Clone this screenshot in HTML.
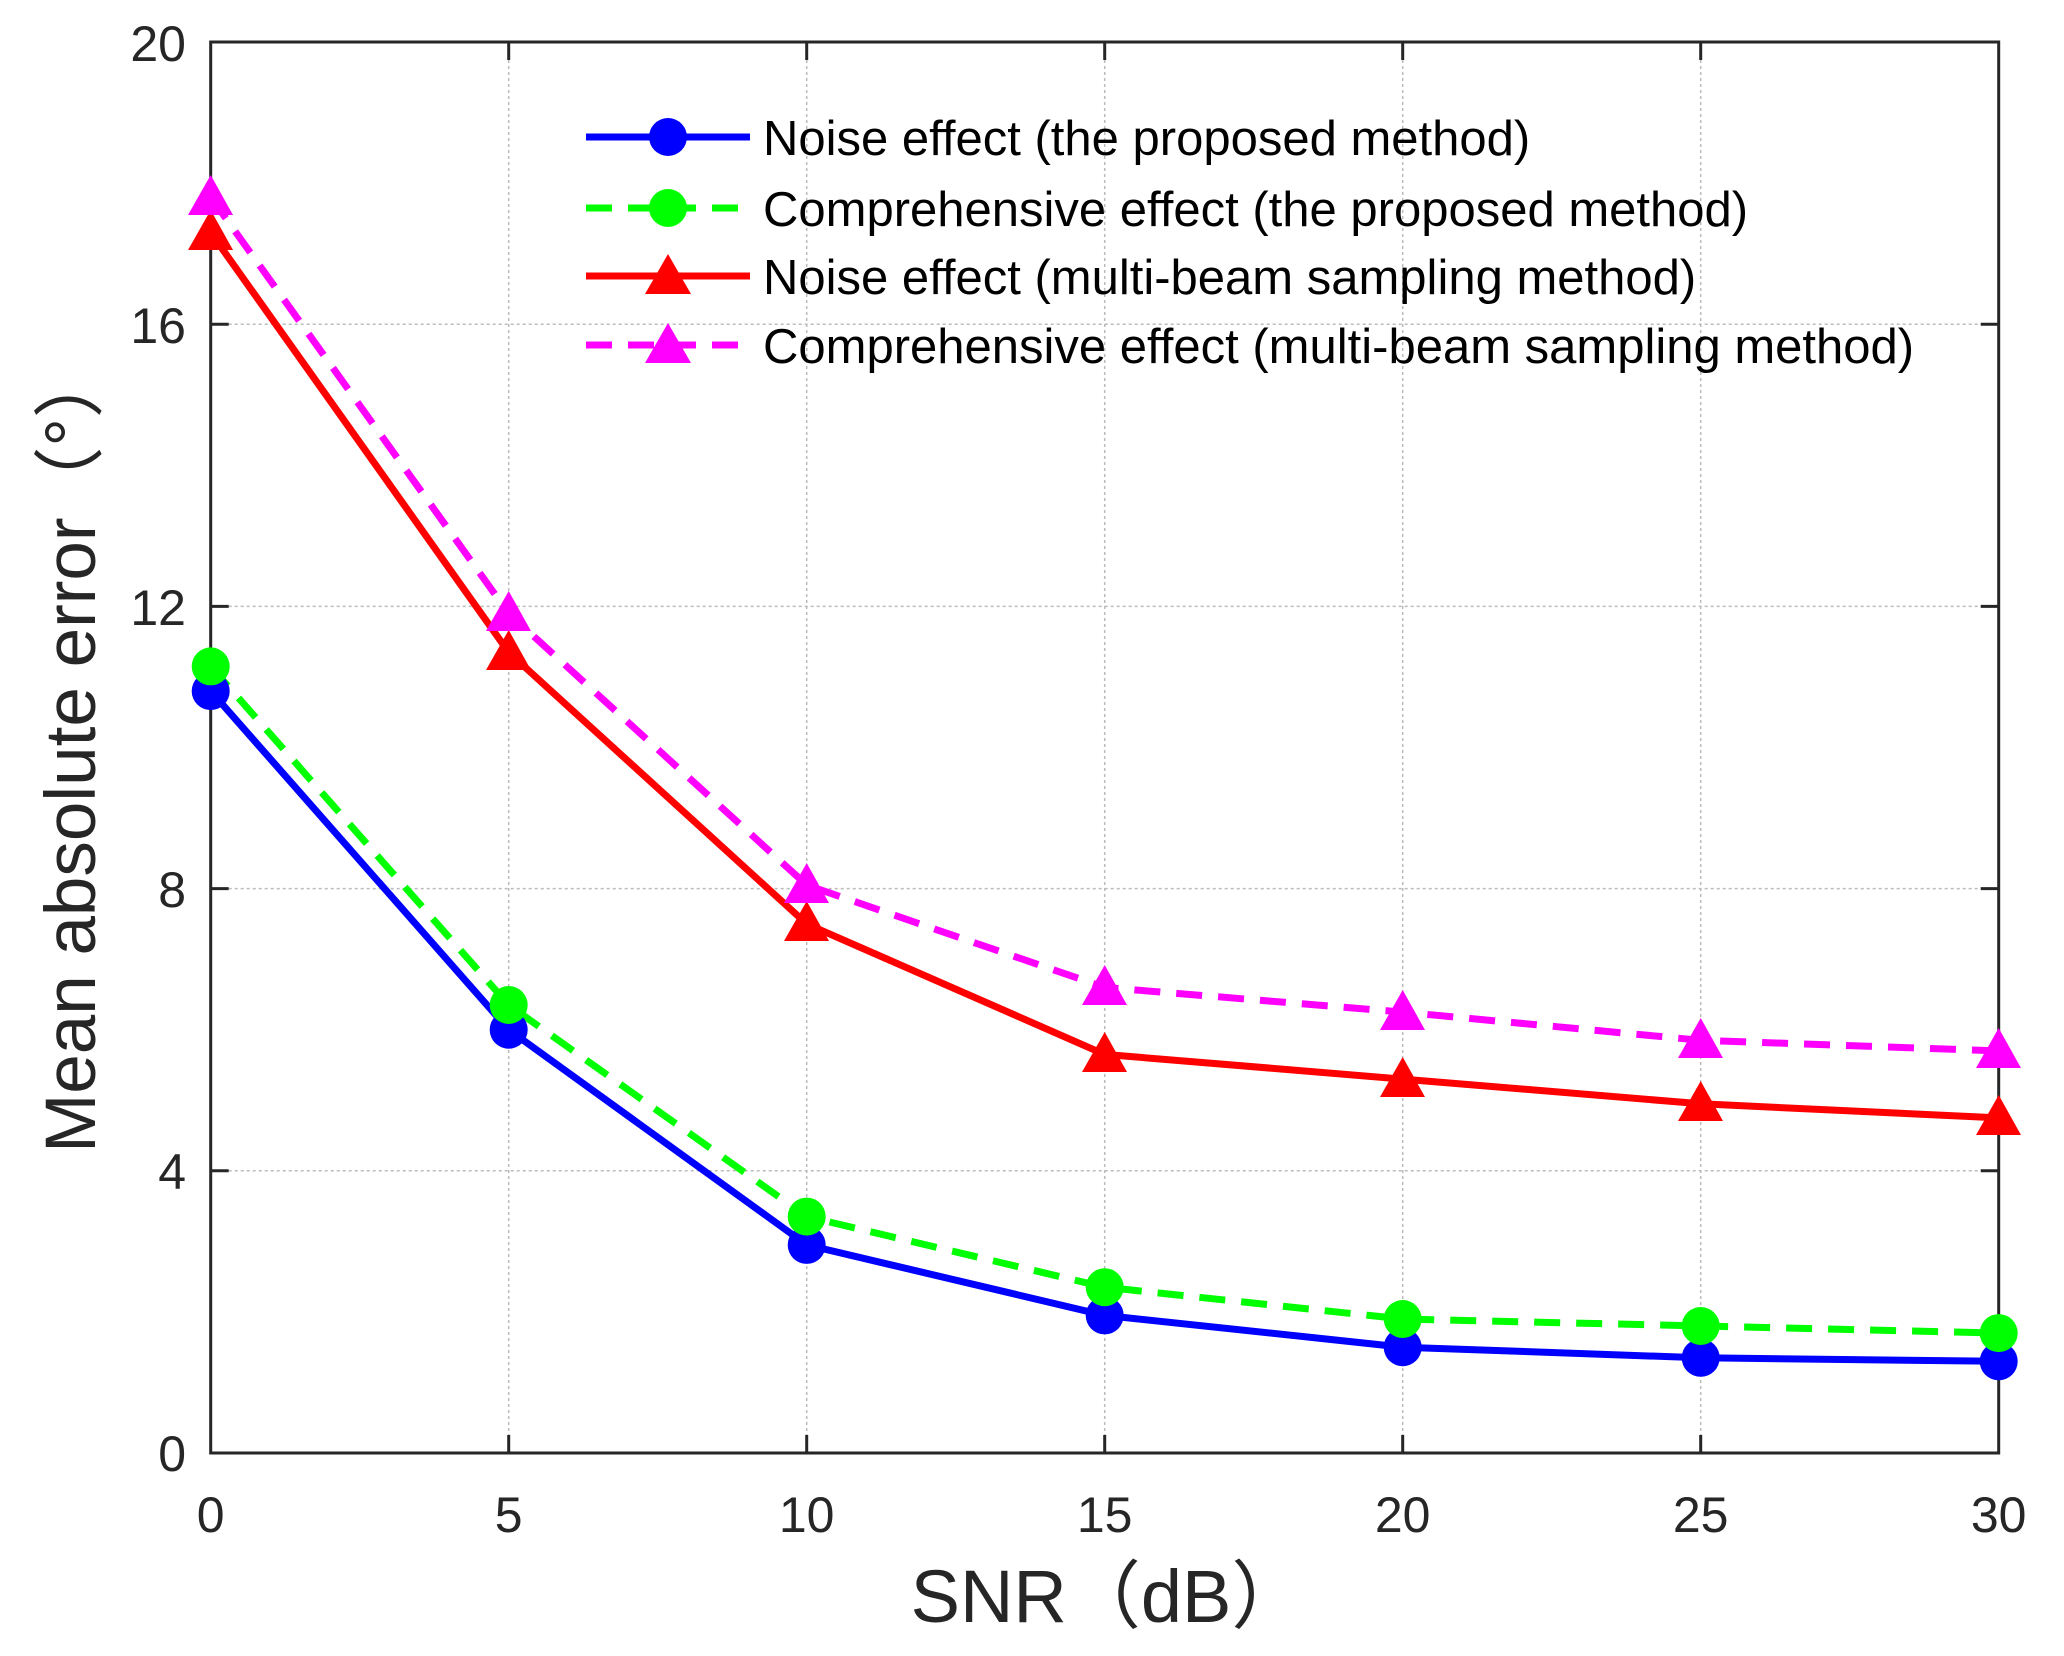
<!DOCTYPE html>
<html><head><meta charset="utf-8"><style>html,body{margin:0;padding:0;background:#fff}svg{display:block}</style></head>
<body>
<svg width="2064" height="1656" viewBox="0 0 2064 1656" xmlns="http://www.w3.org/2000/svg" font-family="'Liberation Sans','Noto Sans CJK SC',sans-serif">
<rect width="2064" height="1656" fill="#fff"/>
<g stroke="#bbb" stroke-width="1.5" stroke-dasharray="3,3">
<line x1="508.7" y1="42" x2="508.7" y2="1453"/><line x1="806.7" y1="42" x2="806.7" y2="1453"/>
<line x1="1104.7" y1="42" x2="1104.7" y2="1453"/><line x1="1402.7" y1="42" x2="1402.7" y2="1453"/>
<line x1="1700.7" y1="42" x2="1700.7" y2="1453"/>
<line x1="210.7" y1="1170.8" x2="1998.7" y2="1170.8"/><line x1="210.7" y1="888.6" x2="1998.7" y2="888.6"/>
<line x1="210.7" y1="606.4" x2="1998.7" y2="606.4"/><line x1="210.7" y1="324.2" x2="1998.7" y2="324.2"/>
</g>
<g stroke="#262626" stroke-width="3">
<line x1="508.7" y1="1453" x2="508.7" y2="1435"/><line x1="806.7" y1="1453" x2="806.7" y2="1435"/><line x1="1104.7" y1="1453" x2="1104.7" y2="1435"/><line x1="1402.7" y1="1453" x2="1402.7" y2="1435"/><line x1="1700.7" y1="1453" x2="1700.7" y2="1435"/>
<line x1="508.7" y1="42" x2="508.7" y2="60"/><line x1="806.7" y1="42" x2="806.7" y2="60"/><line x1="1104.7" y1="42" x2="1104.7" y2="60"/><line x1="1402.7" y1="42" x2="1402.7" y2="60"/><line x1="1700.7" y1="42" x2="1700.7" y2="60"/>
<line x1="210.7" y1="1170.8" x2="228.7" y2="1170.8"/><line x1="210.7" y1="888.6" x2="228.7" y2="888.6"/><line x1="210.7" y1="606.4" x2="228.7" y2="606.4"/><line x1="210.7" y1="324.2" x2="228.7" y2="324.2"/>
<line x1="1998.7" y1="1170.8" x2="1980.7" y2="1170.8"/><line x1="1998.7" y1="888.6" x2="1980.7" y2="888.6"/><line x1="1998.7" y1="606.4" x2="1980.7" y2="606.4"/><line x1="1998.7" y1="324.2" x2="1980.7" y2="324.2"/>
<rect x="210.7" y="42" width="1788" height="1411" fill="none"/>
</g>
<g fill="#262626" font-size="50" text-anchor="middle">
<text x="210.7" y="1532">0</text><text x="508.7" y="1532">5</text><text x="806.7" y="1532">10</text><text x="1104.7" y="1532">15</text><text x="1402.7" y="1532">20</text><text x="1700.7" y="1532">25</text><text x="1998.7" y="1532">30</text>
</g>
<g fill="#262626" font-size="50" text-anchor="end">
<text x="186" y="1471">0</text><text x="186" y="1189">4</text><text x="186" y="907">8</text><text x="186" y="625">12</text><text x="186" y="343">16</text><text x="186" y="61">20</text>
</g>
<text x="1108" y="1622" font-size="74" fill="#262626" text-anchor="middle">SNR（dB）</text>
<text transform="translate(95,750) rotate(-90)" font-size="71" fill="#262626" text-anchor="middle">Mean absolute error（°）</text>
<polyline fill="none" stroke="#0000ff" stroke-width="7" points="210.7,691.1 508.7,1029.7 806.7,1244.9 1104.7,1315.4 1402.7,1347.2 1700.7,1357.8 1998.7,1361.3"/>
<polyline fill="none" stroke="#00ff00" stroke-width="7" stroke-dasharray="26,16" points="210.7,666.4 508.7,1005.0 806.7,1216.6 1104.7,1287.2 1402.7,1319.0 1700.7,1326.0 1998.7,1333.1"/>
<polyline fill="none" stroke="#ff0000" stroke-width="7" points="210.7,232.6 508.7,652.3 806.7,923.9 1104.7,1054.4 1402.7,1079.1 1700.7,1103.8 1998.7,1117.9"/>
<polyline fill="none" stroke="#ff00ff" stroke-width="7" stroke-dasharray="26,16" points="210.7,197.2 508.7,613.5 806.7,885.1 1104.7,987.4 1402.7,1012.1 1700.7,1040.3 1998.7,1050.9"/>
<g fill="#0000ff"><circle cx="210.7" cy="691.1" r="19"/><circle cx="508.7" cy="1029.7" r="19"/><circle cx="806.7" cy="1244.9" r="19"/><circle cx="1104.7" cy="1315.4" r="19"/><circle cx="1402.7" cy="1347.2" r="19"/><circle cx="1700.7" cy="1357.8" r="19"/><circle cx="1998.7" cy="1361.3" r="19"/></g>
<g fill="#00ff00"><circle cx="210.7" cy="666.4" r="19"/><circle cx="508.7" cy="1005.0" r="19"/><circle cx="806.7" cy="1216.6" r="19"/><circle cx="1104.7" cy="1287.2" r="19"/><circle cx="1402.7" cy="1319.0" r="19"/><circle cx="1700.7" cy="1326.0" r="19"/><circle cx="1998.7" cy="1333.1" r="19"/></g>
<g fill="#ff0000">
<polygon points="210.7,210 233,250 188,250"/><polygon points="508.7,630 531,670 486,670"/><polygon points="806.7,901 829,941 784,941"/><polygon points="1104.7,1032 1127,1072 1082,1072"/><polygon points="1402.7,1057 1425,1097 1380,1097"/><polygon points="1700.7,1081 1723,1121 1678,1121"/><polygon points="1998.7,1095 2021,1135 1976,1135"/>
</g>
<g fill="#ff00ff">
<polygon points="210.7,175 233,215 188,215"/><polygon points="508.7,591 531,631 486,631"/><polygon points="806.7,863 829,903 784,903"/><polygon points="1104.7,965 1127,1005 1082,1005"/><polygon points="1402.7,990 1425,1030 1380,1030"/><polygon points="1700.7,1018 1723,1058 1678,1058"/><polygon points="1998.7,1028 2021,1068 1976,1068"/>
</g>
<line x1="586" y1="137" x2="750" y2="137" stroke="#0000ff" stroke-width="7"/><circle cx="668" cy="137" r="19" fill="#0000ff"/>
<line x1="586" y1="208" x2="750" y2="208" stroke="#00ff00" stroke-width="7" stroke-dasharray="26,16"/><circle cx="668" cy="208" r="19" fill="#00ff00"/>
<line x1="586" y1="276" x2="750" y2="276" stroke="#ff0000" stroke-width="7"/><polygon points="668,254 691,294 645,294" fill="#ff0000"/>
<line x1="586" y1="345" x2="750" y2="345" stroke="#ff00ff" stroke-width="7" stroke-dasharray="26,16"/><polygon points="668,323 691,363 645,363" fill="#ff00ff"/>
<g font-size="49" fill="#000">
<text x="763" y="155">Noise effect (the proposed method)</text>
<text x="763" y="226">Comprehensive effect (the proposed method)</text>
<text x="763" y="294">Noise effect (multi-beam sampling method)</text>
<text x="763" y="363">Comprehensive effect (multi-beam sampling method)</text>
</g>
</svg>
</body></html>
